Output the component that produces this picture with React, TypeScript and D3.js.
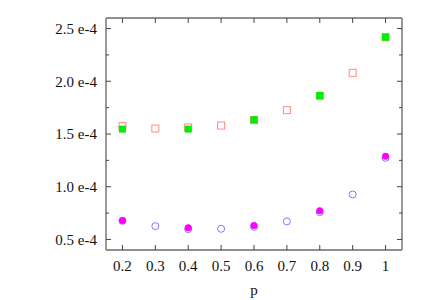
import React, { useEffect, useRef } from 'react';
import * as d3 from 'd3';

const pValues = [0.2, 0.3, 0.4, 0.5, 0.6, 0.7, 0.8, 0.9, 1];
const redOpen = [1.575, 1.552, 1.562, 1.58, 1.632, 1.726, 1.862, 2.08, 2.418];
const blueOpen = [0.676, 0.626, 0.598, 0.601, 0.62, 0.671, 0.759, 0.927, 1.274];
const greenP = [0.2, 0.4, 0.6, 0.8, 1];
const greenFilled = [1.546, 1.546, 1.635, 1.865, 2.418];
const magentaFilled = [0.68, 0.611, 0.633, 0.772, 1.29];
const yTicks = [0.5, 1.0, 1.5, 2.0, 2.5];
const yMinor = [0.75, 1.25, 1.75, 2.25];

export default function App() {
  const ref = useRef<SVGSVGElement>(null);

  useEffect(() => {
    const svg = d3.select(ref.current);
    svg.selectAll('*').remove();
    const margin = { top: 18, right: 23, bottom: 50, left: 106 };
    const width = 425 - margin.left - margin.right;
    const height = 300 - margin.top - margin.bottom;
    const g = svg.append('g').attr('transform', `translate(${margin.left},${margin.top})`);

    const x = d3.scaleLinear().domain([0.15, 1.05]).range([0, width]);
    const y = d3.scaleLinear().domain([0.4, 2.6]).range([height, 0]);
    const font = 'Liberation Serif, Times New Roman, DejaVu Serif, serif';

    // frame
    g.append('line').attr('x1', 0).attr('x2', width).attr('y1', 0).attr('y2', 0).attr('stroke', '#222');
    g.append('line').attr('x1', 0).attr('x2', width).attr('y1', height).attr('y2', height).attr('stroke', '#222');
    g.append('line').attr('x1', 0).attr('x2', 0).attr('y1', 0).attr('y2', height).attr('stroke', '#777').attr('stroke-width', 1.5);
    g.append('line').attr('x1', width).attr('x2', width).attr('y1', 0).attr('y2', height).attr('stroke', '#777').attr('stroke-width', 1.5);

    // x ticks (bottom and top, inward)
    pValues.forEach((p) => {
      g.append('line').attr('x1', x(p)).attr('x2', x(p)).attr('y1', height).attr('y2', height - 5).attr('stroke', '#444');
      g.append('line').attr('x1', x(p)).attr('x2', x(p)).attr('y1', 0).attr('y2', 5).attr('stroke', '#444');
      g.append('text')
        .attr('x', x(p))
        .attr('y', height + 21)
        .attr('text-anchor', 'middle')
        .style('font-family', font)
        .style('font-size', '15px')
        .attr('fill', '#111')
        .text(String(p));
    });

    // y ticks
    yTicks.forEach((v) => {
      g.append('line').attr('x1', 0).attr('x2', 5).attr('y1', y(v)).attr('y2', y(v)).attr('stroke', '#444');
      g.append('line').attr('x1', width).attr('x2', width - 5).attr('y1', y(v)).attr('y2', y(v)).attr('stroke', '#444');
      g.append('text')
        .attr('x', -9)
        .attr('y', y(v))
        .attr('dy', '0.35em')
        .attr('text-anchor', 'end')
        .style('font-family', font)
        .style('font-size', '15px')
        .attr('fill', '#111')
        .text(`${v.toFixed(1)} e-4`);
    });
    yMinor.forEach((v) => {
      g.append('line').attr('x1', 0).attr('x2', 3).attr('y1', y(v)).attr('y2', y(v)).attr('stroke', '#444');
      g.append('line').attr('x1', width).attr('x2', width - 3).attr('y1', y(v)).attr('y2', y(v)).attr('stroke', '#444');
    });

    // x label
    g.append('text')
      .attr('x', width / 2)
      .attr('y', height + 45)
      .attr('text-anchor', 'middle')
      .style('font-family', font)
      .style('font-size', '15px')
      .attr('fill', '#111')
      .text('p');

    // red open squares
    g.append('g')
      .selectAll('rect')
      .data(redOpen)
      .enter()
      .append('rect')
      .attr('x', (d, i) => x(pValues[i]) - 3.5)
      .attr('y', (d) => y(d) - 3.5)
      .attr('width', 7)
      .attr('height', 7)
      .attr('fill', 'none')
      .attr('stroke', '#ff8a8a')
      .attr('stroke-width', 1);

    // blue open circles
    g.append('g')
      .selectAll('circle')
      .data(blueOpen)
      .enter()
      .append('circle')
      .attr('cx', (d, i) => x(pValues[i]))
      .attr('cy', (d) => y(d))
      .attr('r', 3.5)
      .attr('fill', 'none')
      .attr('stroke', '#7b7bff')
      .attr('stroke-width', 1);

    // green filled squares
    g.append('g')
      .selectAll('rect')
      .data(greenFilled)
      .enter()
      .append('rect')
      .attr('x', (d, i) => x(greenP[i]) - 3.5)
      .attr('y', (d) => y(d) - 3.5)
      .attr('width', 7)
      .attr('height', 7)
      .attr('fill', '#00ee00');

    // magenta filled circles
    g.append('g')
      .selectAll('circle')
      .data(magentaFilled)
      .enter()
      .append('circle')
      .attr('cx', (d, i) => x(greenP[i]))
      .attr('cy', (d) => y(d))
      .attr('r', 3.5)
      .attr('fill', '#ff00ff');
  }, []);

  return (
    <svg
      ref={ref}
      width={425}
      height={300}
      style={{ position: 'absolute', left: 0, top: 0, background: '#fff' }}
    />
  );
}
